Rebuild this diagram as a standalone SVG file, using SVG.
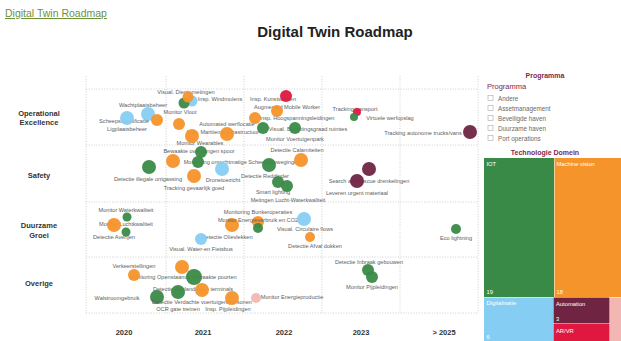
<svg xmlns="http://www.w3.org/2000/svg" width="621" height="341" viewBox="0 0 621 341">
<defs>
<style>
.grid{stroke:#c4c4c4;stroke-width:0.8;stroke-dasharray:1 1.6;fill:none}
.lbl{font-family:"Liberation Sans",Arial,sans-serif;font-size:5.6px;fill:#606060;text-anchor:middle}
.row{font-family:"Liberation Sans",Arial,sans-serif;font-size:7.5px;font-weight:bold;fill:#333;text-anchor:middle}
.yr{font-family:"Liberation Sans",Arial,sans-serif;font-size:7.5px;font-weight:bold;fill:#333;text-anchor:middle}
.g{fill:#3a8a47;opacity:0.95}
.o{fill:#f5942a;opacity:0.95}
.b{fill:#86cdf3;opacity:0.95}
.m{fill:#6f2442;opacity:0.95}
.r{fill:#e0173f;opacity:0.95}
.p{fill:#f3b7b3;opacity:0.95}
.leg{font-family:"Liberation Sans",Arial,sans-serif;font-size:6.3px;fill:#6a6a6a}
.box{fill:#fff;stroke:#aaa;stroke-width:0.6}
.tm{font-family:"Liberation Sans",Arial,sans-serif;font-size:5.8px;fill:#fff}
</style>
</defs>
<rect width="621" height="341" fill="#fff"/>
<text x="5" y="17" font-family="Liberation Sans,Arial,sans-serif" font-size="10.5" fill="#6f8f3a" text-decoration="underline">Digital Twin Roadmap</text>
<text x="335" y="37" font-family="Liberation Sans,Arial,sans-serif" font-size="15" font-weight="bold" fill="#222" text-anchor="middle">Digital Twin Roadmap</text>

<g id="grid">
<line class="grid" x1="86" y1="89" x2="478" y2="89"/>
<line class="grid" x1="86" y1="145" x2="478" y2="145"/>
<line class="grid" x1="86" y1="202" x2="478" y2="202"/>
<line class="grid" x1="86" y1="257" x2="478" y2="257"/>
<line class="grid" x1="86" y1="313" x2="478" y2="313"/>
<line class="grid" x1="86" y1="76" x2="86" y2="313"/>
<line class="grid" x1="166" y1="76" x2="166" y2="313"/>
<line class="grid" x1="244" y1="76" x2="244" y2="313"/>
<line class="grid" x1="322" y1="76" x2="322" y2="313"/>
<line class="grid" x1="400" y1="76" x2="400" y2="313"/>
<line class="grid" x1="478" y1="76" x2="478" y2="313"/>
</g>

<g id="rows">
<text class="row" x="39" y="116">Operational</text>
<text class="row" x="39" y="125">Excellence</text>
<text class="row" x="39" y="178">Safety</text>
<text class="row" x="39" y="228">Duurzame</text>
<text class="row" x="39" y="238">Groei</text>
<text class="row" x="39" y="286">Overige</text>
</g>
<g id="years">
<text class="yr" x="124" y="335">2020</text>
<text class="yr" x="203" y="335">2021</text>
<text class="yr" x="284" y="335">2022</text>
<text class="yr" x="361" y="335">2023</text>
<text class="yr" x="444" y="335">&gt; 2025</text>
</g>

<g id="connectors"></g>

<!-- Operational Excellence -->
<g id="n-dieptemetingen"><text class="lbl" x="186" y="94">Visual. Dieptemetingen</text><circle class="b" cx="192" cy="101" r="5.5"/><circle class="g" cx="184" cy="103" r="5.5"/><circle class="o" cx="188" cy="97" r="5.5"/></g>
<g id="n-windmolens"><text class="lbl" x="220" y="101">Insp. Windmolens</text></g>
<g id="n-wachtplaats"><text class="lbl" x="143" y="107">Wachtplaatsbeheer</text><circle class="b" cx="148" cy="114" r="7"/></g>
<g id="n-scheepsid"><text class="lbl" x="124" y="123">Scheepsidentificatie</text><circle class="b" cx="127" cy="118" r="7"/></g>
<g id="n-ligplaats"><text class="lbl" x="127" y="131">Ligplaatsbeheer</text><circle class="o" cx="157" cy="120" r="6"/></g>
<g id="n-vloot"><text class="lbl" x="180" y="114">Monitor Vloot</text><circle class="o" cx="179" cy="124" r="6"/></g>
<g id="n-werf"><text class="lbl" x="227" y="126">Automated werflocatie</text></g>
<g id="n-maritiem"><text class="lbl" x="223" y="134">Insp. Maritieme infrastructuur</text><circle class="o" cx="227" cy="134" r="7"/></g>
<g id="n-wearables"><text class="lbl" x="200" y="145">Monitor Wearables</text><circle class="o" cx="192" cy="136" r="7"/></g>
<g id="n-kunstwerken"><text class="lbl" x="273" y="101">Insp. Kunstwerken</text><circle class="r" cx="286" cy="96" r="6"/></g>
<g id="n-amw"><text class="lbl" x="287" y="109">Augmented Mobile Worker</text><circle class="o" cx="277" cy="111" r="6"/></g>
<g id="n-hoogsp"><text class="lbl" x="297" y="120">Insp. Hoogspanningsleidingen</text><circle class="o" cx="255" cy="118" r="6"/></g>
<g id="n-bezetting"><text class="lbl" x="308" y="131">Visual. Bezettingsgraad ruimtes</text><circle class="g" cx="263" cy="128" r="6"/><circle class="g" cx="295" cy="128" r="6"/></g>
<g id="n-voertuig"><text class="lbl" x="295" y="141">Monitor Voertuigenpark</text></g>
<g id="n-transport"><text class="lbl" x="355" y="111">Tracking transport</text><circle class="r" cx="357" cy="112" r="4"/></g>
<g id="n-virtueel"><text class="lbl" x="390" y="120">Virtuele werfopslag</text><circle class="g" cx="354" cy="117" r="4"/></g>
<g id="n-trucks"><text class="lbl" x="423" y="135">Tracking autonome trucks/vans</text><circle class="m" cx="470" cy="132" r="7"/></g>

<!-- Safety -->
<g id="n-spoor"><text class="lbl" x="199" y="153">Bewaakte overgangen spoor</text><circle class="g" cx="201" cy="152" r="6"/></g>
<g id="n-scheepsbew"><text class="lbl" x="242" y="164">Monitoring onrechtmatige Scheepsbewegingen</text><circle class="o" cx="173" cy="161" r="7"/><circle class="g" cx="198" cy="162" r="6"/></g>
<g id="n-ontgassing"><text class="lbl" x="148" y="181">Detectie illegale ontgassing</text><circle class="g" cx="149" cy="167" r="7"/></g>
<g id="n-drone"><text class="lbl" x="223" y="182">Dronetoezicht</text><circle class="b" cx="222" cy="169" r="7"/></g>
<g id="n-gevaarlijk"><text class="lbl" x="194" y="190">Tracking gevaarlijk goed</text><circle class="o" cx="194" cy="176" r="7"/></g>
<g id="n-calamiteiten"><text class="lbl" x="297" y="152">Detectie Calamiteiten</text><circle class="o" cx="301" cy="160" r="7"/></g>
<g id="n-reddinder"><text class="lbl" x="265" y="178">Detectie Reddinder</text><circle class="g" cx="269" cy="165" r="7"/></g>
<g id="n-smart"><text class="lbl" x="273" y="194">Smart lighting</text><circle class="g" cx="278" cy="182" r="6"/></g>
<g id="n-luchtwater"><text class="lbl" x="288" y="202">Metingen Lucht-Waterkwaliteit</text><circle class="g" cx="287" cy="186" r="6"/></g>
<g id="n-search"><text class="lbl" x="369" y="183">Search and rescue drenkelingen</text><circle class="m" cx="369" cy="169" r="7"/></g>
<g id="n-urgent"><text class="lbl" x="357" y="195">Leveren urgent materiaal</text><circle class="m" cx="357" cy="181" r="7"/></g>

<!-- Duurzame Groei -->
<g id="n-waterkw"><text class="lbl" x="126" y="212">Monitor Waterkwaliteit</text><circle class="g" cx="127" cy="217" r="4.5"/></g>
<g id="n-luchtkw"><text class="lbl" x="126" y="226">Monitor Luchtkwaliteit</text><circle class="o" cx="114" cy="225" r="7"/></g>
<g id="n-averijen"><text class="lbl" x="114" y="239">Detectie Averijen</text><circle class="g" cx="126" cy="232" r="4.5"/></g>
<g id="n-olie"><text class="lbl" x="227" y="239">Detectie Olievlekken</text><circle class="o" cx="232" cy="225" r="7"/><circle class="b" cx="201" cy="239" r="6"/></g>
<g id="n-fietsbus"><text class="lbl" x="201" y="251">Visual. Water-en Fietsbus</text></g>
<g id="n-bunker"><text class="lbl" x="258" y="214">Monitoring Bunkeroperaties</text><circle class="o" cx="258" cy="222" r="6"/></g>
<g id="n-energie"><text class="lbl" x="258" y="222">Monitor Energieverbruik en CO2</text><circle class="g" cx="258" cy="228" r="5"/></g>
<g id="n-circulair"><text class="lbl" x="305" y="231">Visual. Circulaire flows</text><circle class="b" cx="304" cy="219" r="7"/></g>
<g id="n-afval"><text class="lbl" x="315" y="248">Detectie Afval dokken</text><circle class="o" cx="310" cy="237" r="5"/></g>
<g id="n-eco"><text class="lbl" x="456" y="240">Eco lightning</text><circle class="g" cx="456" cy="229" r="5"/></g>

<!-- Overige -->
<g id="n-verkeer"><text class="lbl" x="134" y="268">Verkeerstellingen</text><circle class="o" cx="182" cy="267" r="7"/></g>
<g id="n-poorten"><text class="lbl" x="183" y="279">Monitoring Openstaande bewaakte poorten</text><circle class="o" cx="134" cy="275" r="6"/><circle class="g" cx="194" cy="277" r="8"/></g>
<g id="n-terminals"><text class="lbl" x="193" y="291">Detectie Aanlandingen terminals</text><circle class="o" cx="202" cy="290" r="7"/><circle class="g" cx="178" cy="292" r="7"/></g>
<g id="n-walstroom"><text class="lbl" x="117" y="300">Walstroomgebruik</text><circle class="g" cx="157" cy="297" r="7"/></g>
<g id="n-verdacht"><text class="lbl" x="202" y="303.5">Detectie Verdachte voertuigen/personen</text></g>
<g id="n-ocr"><text class="lbl" x="178" y="311">OCR gate treinen</text></g>
<g id="n-pijp"><text class="lbl" x="228" y="311">Insp. Pijpleidingen</text><circle class="o" cx="232" cy="298" r="7"/></g>
<g id="n-energieprod"><text class="lbl" x="292" y="299">Monitor Energieproductie</text><circle class="p" cx="256" cy="298" r="5"/></g>
<g id="n-inbraak"><text class="lbl" x="369" y="264">Detectie Inbraak gebouwen</text><circle class="g" cx="368" cy="270" r="6"/></g>
<g id="n-monpijp"><text class="lbl" x="372" y="289">Monitor Pijpleidingen</text><circle class="g" cx="372" cy="277" r="6"/></g>

<!-- Legend -->
<g id="legend">
<text x="545" y="78" font-family="Liberation Sans,Arial,sans-serif" font-size="7" font-weight="bold" fill="#7b2a4e" text-anchor="middle">Programma</text>
<text x="487" y="89" font-family="Liberation Sans,Arial,sans-serif" font-size="7.5" fill="#7b2a4e">Programma</text>
<rect class="box" x="488" y="95.5" width="5" height="5"/><text class="leg" x="498" y="100.5">Andere</text>
<rect class="box" x="488" y="105.5" width="5" height="5"/><text class="leg" x="498" y="110.5">Assetmanagement</text>
<rect class="box" x="488" y="115.5" width="5" height="5"/><text class="leg" x="498" y="120.5">Beveiligde haven</text>
<rect class="box" x="488" y="125.5" width="5" height="5"/><text class="leg" x="498" y="130.5">Duurzame haven</text>
<rect class="box" x="488" y="135.5" width="5" height="5"/><text class="leg" x="498" y="140.5">Port operations</text>
<text x="545" y="155" font-family="Liberation Sans,Arial,sans-serif" font-size="7" font-weight="bold" fill="#7b2a4e" text-anchor="middle">Technologie Domein</text>
</g>
<g id="treemap">
<rect x="484" y="158" width="70" height="139" fill="#3a8a47"/>
<rect x="554.5" y="158" width="66.5" height="139" fill="#f5942a"/>
<rect x="484" y="297.5" width="69" height="43.5" fill="#86cdf3"/>
<rect x="553.5" y="297.5" width="56" height="26" fill="#6f2442"/>
<rect x="553.5" y="324" width="56" height="17" fill="#e0173f"/>
<rect x="610" y="297.5" width="11" height="43.5" fill="#f3b7b3"/>
<text class="tm" x="486.5" y="166">IOT</text>
<text class="tm" x="486.5" y="294">19</text>
<text class="tm" x="556.5" y="166">Machine vision</text>
<text class="tm" x="556.5" y="294">18</text>
<text class="tm" x="486.5" y="305">Digitalisatie</text>
<text class="tm" x="486.5" y="339">6</text>
<text class="tm" x="556" y="306">Automation</text>
<text class="tm" x="556" y="321">3</text>
<text class="tm" x="556" y="333">AR/VR</text>
</g>
</svg>
